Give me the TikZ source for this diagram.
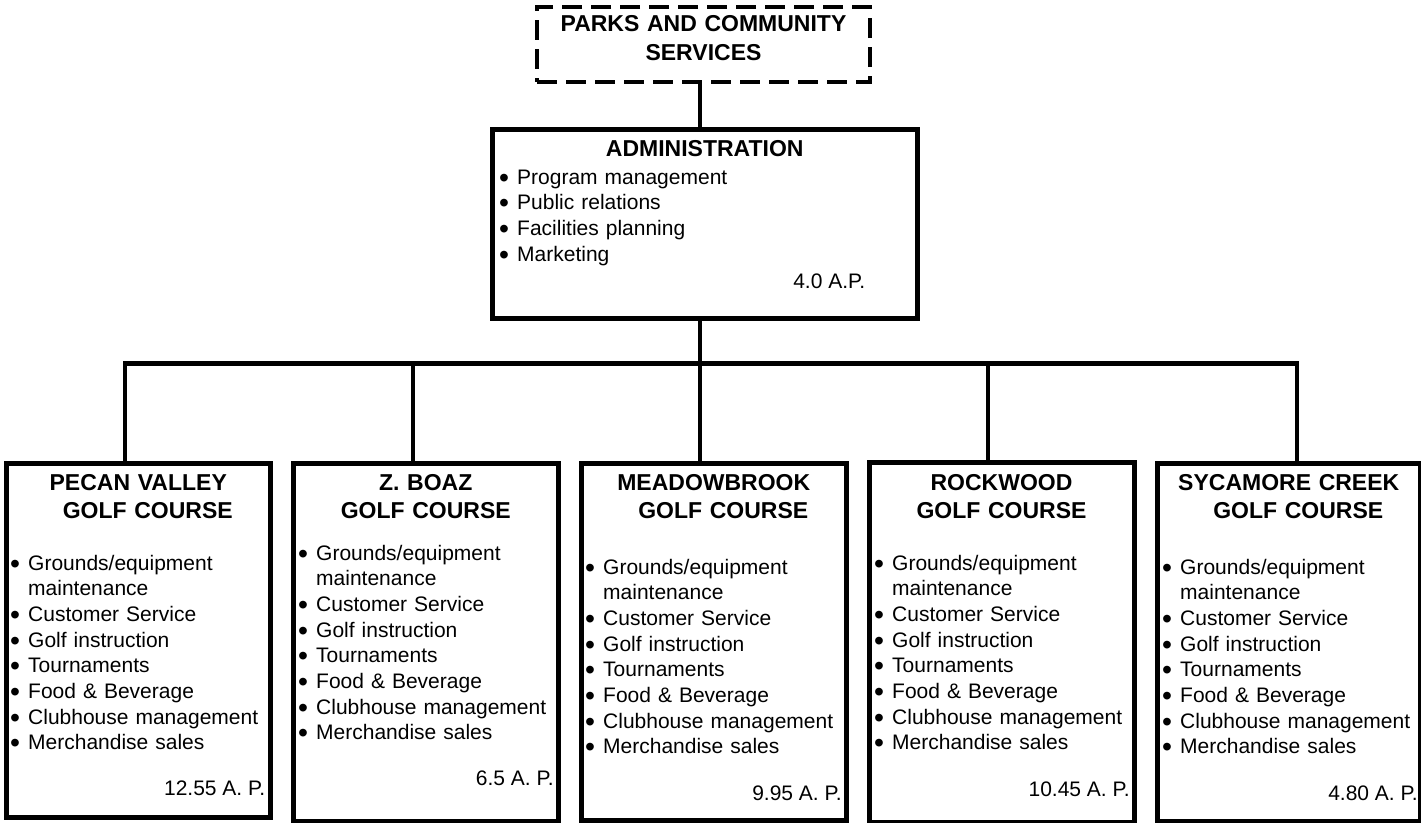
\documentclass[tikz,border=0pt]{standalone}
\usepackage{fontspec}
\setmainfont{Liberation Sans}
\usetikzlibrary{positioning, calc}

% bullet and hanging indent for the duty lists
\newcommand{\bul}{\makebox[15pt][l]{\hspace*{-3pt}\raisebox{-3pt}{\scalebox{1.35}{\textbullet}}}}
\newcommand{\cont}{\hspace*{15pt}}

% same duties at every golf course
\newcommand{\courselist}{%
  \bul Grounds/equipment\\
  \cont maintenance\\
  \bul Customer Service\\
  \bul Golf instruction\\
  \bul Tournaments\\
  \bul Food \& Beverage\\
  \bul Clubhouse management\\
  \bul Merchandise sales}

\begin{document}
\begin{tikzpicture}[x=1pt, y=-1pt,
    box/.style={rectangle, draw=black, line width=5pt, anchor=north west, inner sep=0pt, minimum width=264pt, minimum height=356pt},
    dashbox/.style={rectangle, draw=black, line width=4pt, dash pattern=on 20pt off 9pt, anchor=north west, inner sep=0pt},
    title/.style={font=\fontsize{23}{28}\selectfont\bfseries, align=center, text width=260pt, inner sep=0pt, anchor=base},
    body/.style={font=\fontsize{21}{25.7}\selectfont, inner sep=0pt},
    items/.style={body, align=left, text width=250pt, anchor=base west},
    link/.style={draw=black, line width=4.5pt, line join=miter}]

    \fill[white] (0,0) rectangle (1421,822);
    \useasboundingbox (0,0) rectangle (1421,822);

    % Department and administration
    \node[dashbox, minimum width=333pt, minimum height=75pt] (parks) at (535,5) {};
    \node[title, text width=330pt, font=\fontsize{23}{29}\selectfont\bfseries] (parks-t) at ($(parks.north)+(0,26)$) {PARKS AND COMMUNITY\\SERVICES};

    \node[box, minimum width=424.5pt, minimum height=188.5pt] (admin) at (490,127) {};
    \node[title] (admin-t) at ($(admin.north)+(0,29)$) {ADMINISTRATION};
    \node[items] (admin-l) at ($(admin.north west)+(12,57)$) {%
        \bul Program management\\
        \bul Public relations\\
        \bul Facilities planning\\
        \bul Marketing};
    \node[body, anchor=base east] (admin-ap) at ($(admin.north east)+(-54,161)$) {4.0 A.P.};

    % Golf courses
    \node[box, minimum width=263.5pt, minimum height=354pt] (pecan) at (4,460.5) {};
    \node[box, minimum width=265.5pt, minimum height=358.5pt] (boaz) at (290.5,460.5) {};
    \node[box, minimum width=264.5pt, minimum height=357.5pt] (meadow) at (579,460.5) {};
    \node[box, minimum width=265pt, minimum height=360pt] (rock) at (866.5,459.5) {};
    \node[box, minimum width=263.5pt, minimum height=358pt] (sycamore) at (1154.5,461) {};

    \node[title] (pecan-t) at ($(pecan.north)+(0,29.5)$) {PECAN VALLEY\\\hspace*{19pt}GOLF COURSE};
    \node[title] (boaz-t) at ($(boaz.north)+(0,29.5)$) {Z. BOAZ\\GOLF COURSE};
    \node[title] (meadow-t) at ($(meadow.north)+(0,29.5)$) {MEADOWBROOK\\\hspace*{19pt}GOLF COURSE};
    \node[title] (rock-t) at ($(rock.north)+(0,30.5)$) {ROCKWOOD\\GOLF COURSE};
    \node[title] (sycamore-t) at ($(sycamore.north)+(0,29)$) {SYCAMORE CREEK\\\hspace*{19pt}GOLF COURSE};

    \node[items] (pecan-l) at ($(pecan.north west)+(9,109.5)$) {\courselist};
    \node[items] (boaz-l) at ($(boaz.north west)+(10.5,99.5)$) {\courselist};
    \node[items] (meadow-l) at ($(meadow.north west)+(9,113.5)$) {\courselist};
    \node[items] (rock-l) at ($(rock.north west)+(10.5,110.5)$) {\courselist};
    \node[items] (sycamore-l) at ($(sycamore.north west)+(10.5,113)$) {\courselist};

    \node[body, anchor=base east] (pecan-ap) at ($(pecan.north east)+(-7,334.5)$) {12.55 A. P.};
    \node[body, anchor=base east] (boaz-ap) at ($(boaz.north east)+(-7,324.5)$) {6.5 A. P.};
    \node[body, anchor=base east] (meadow-ap) at ($(meadow.north east)+(-6.5,339.5)$) {9.95 A. P.};
    \node[body, anchor=base east] (rock-ap) at ($(rock.north east)+(-6.5,336.5)$) {10.45 A. P.};
    \node[body, anchor=base east] (sycamore-ap) at ($(sycamore.north east)+(-5,339)$) {4.80 A. P.};

    % Connectors
    \coordinate (bus) at (700,363.5);
    \coordinate (d1) at (125,363.5);
    \coordinate (d2) at (413,363.5);
    \coordinate (d4) at (988,363.5);
    \coordinate (d5) at (1297,363.5);

    \draw[link] (parks.south -| bus) -- (admin.north -| bus);
    \draw[link] (admin.south -| bus) -- (bus);
    \draw[link] (d1 |- pecan.north) -- (d1) -- (d5) -- (d5 |- sycamore.north);
    \draw[link] (bus) -- (bus |- meadow.north);
    \foreach \d/\b in {d2/boaz, d4/rock} {
        \draw[link] (\d) -- (\d |- \b.north);
    }
\end{tikzpicture}
\end{document}
